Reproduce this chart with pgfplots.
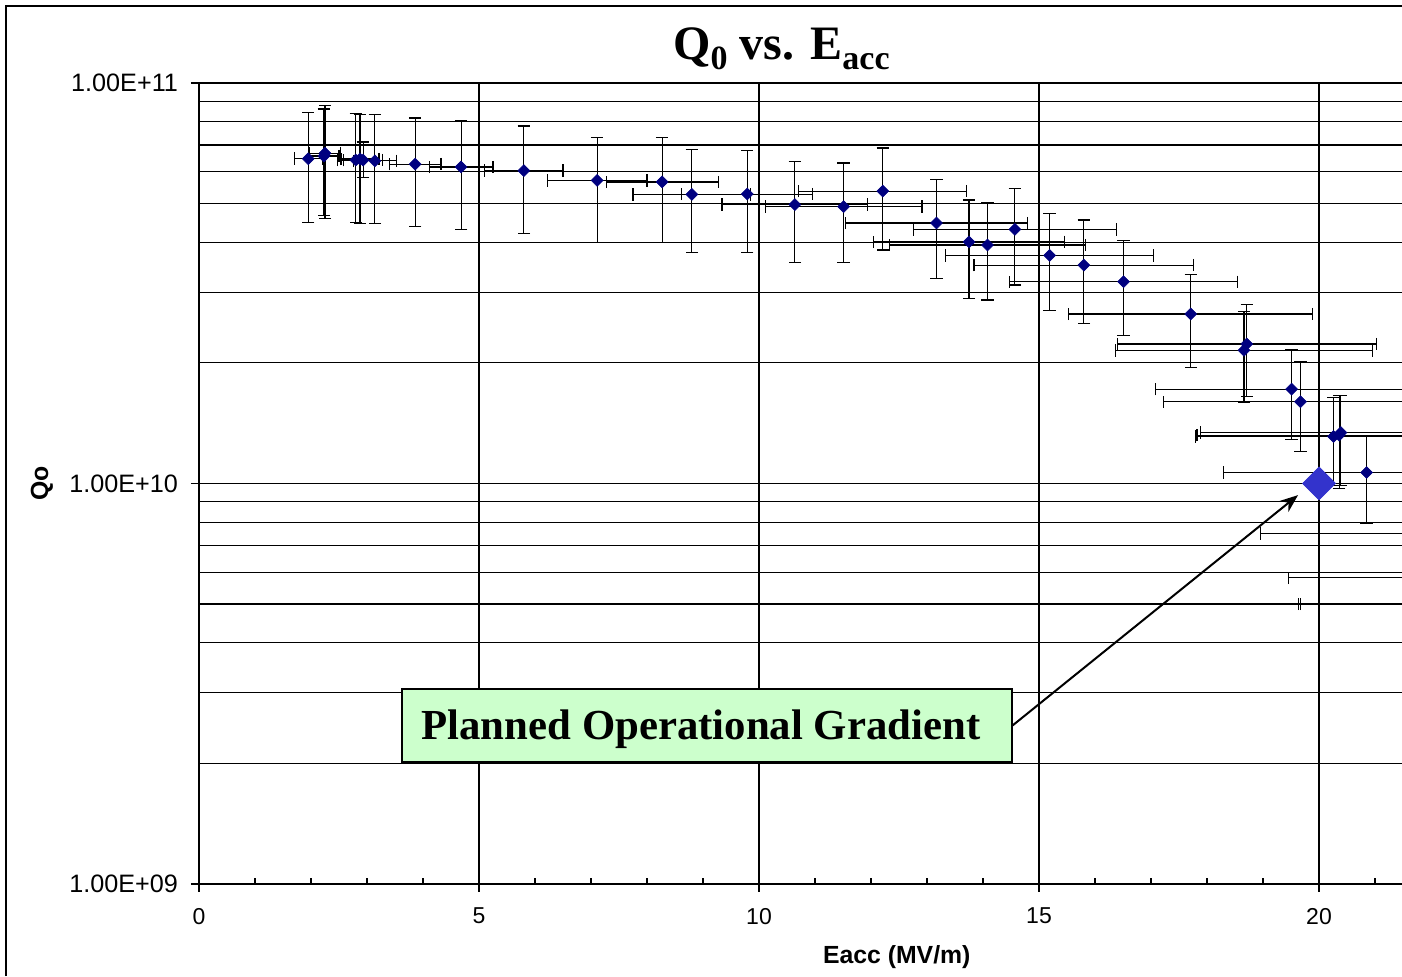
\documentclass[border=0pt]{standalone}
\usepackage{pgfplots}
\pgfplotsset{compat=1.18}
\usepackage{pgfplotstable}
\usepackage{fontspec}
\setmainfont{Liberation Sans}
\newfontfamily\serifb{Liberation Serif}
\usetikzlibrary{arrows.meta}
\definecolor{navy}{RGB}{0,0,128}
\definecolor{bigblue}{RGB}{51,51,204}
\definecolor{boxgreen}{RGB}{204,255,204}

\pgfplotstableread{
x y xe yp ym
1.95 6.47e10 0.25 1.96e10 1.99e10
2.25 6.68e10 0.27 2.10e10 2.10e10
2.23 6.57e10 0.27 2.04e10 1.91e10
2.80 6.42e10 0.33 1.96e10 1.94e10
2.875 6.46e10 0.34 1.87e10 2.01e10
2.93 6.42e10 0.35 0.70e10 0.62e10
3.14 6.39e10 0.38 1.94e10 1.94e10
3.86 6.27e10 0.46 1.91e10 1.89e10
4.68 6.17e10 0.57 1.88e10 1.87e10
5.80 6.04e10 0.70 1.77e10 1.84e10
7.11 5.71e10 0.89 1.61e10 1.71e10
8.27 5.66e10 1.00 1.66e10 1.66e10
8.80 5.27e10 1.05 1.56e10 1.50e10
9.79 5.28e10 1.17 1.50e10 1.51e10
10.64 4.97e10 1.30 1.39e10 1.40e10
11.51 4.91e10 1.40 1.40e10 1.34e10
12.21 5.37e10 1.50 1.51e10 1.54e10
13.17 4.47e10 1.63 1.28e10 1.22e10
13.75 4.01e10 1.70 1.09e10 1.12e10
14.08 3.94e10 1.75 1.10e10 1.07e10
14.57 4.31e10 1.81 1.14e10 1.18e10
15.19 3.71e10 1.86 1.02e10 1.01e10
15.80 3.51e10 1.96 1.04e10 1.00e10
16.51 3.19e10 2.03 0.85e10 0.85e10
17.71 2.65e10 2.18 0.68e10 0.70e10
18.71 2.23e10 2.31 0.57e10 0.58e10
18.66 2.15e10 2.30 0.54e10 0.56e10
19.51 1.72e10 2.43 0.44e10 0.43e10
19.67 1.60e10 2.44 0.41e10 0.40e10
20.26 1.31e10 2.47 0.33e10 0.32e10
20.36 1.32e10 2.54 0.34e10 0.35e10
20.39 1.34e10 2.50 0.32e10 0.35e10
20.85 1.065e10 2.56 0.255e10 0.269e10
21.60 7.50e9 2.65 1.9e9 1.9e9
22.10 5.81e9 2.64 1.4e9 1.4e9
22.30 5.00e9 2.66 1.2e9 1.2e9
22.33 5.00e9 2.66 1.2e9 1.2e9
}\qdata

\begin{document}
\begin{tikzpicture}
\useasboundingbox (-99.5pt,-46pt) rectangle (601.5pt,442pt);
\fill[white] (-99.5pt,-46pt) rectangle (601.5pt,442pt);
\draw[line width=1pt] (-96.5pt,-46pt) -- (-96.5pt,439pt) -- (601.5pt,439pt);
\node[anchor=base, font=\serifb\bfseries\fontsize{24}{28}\selectfont] at (291.25pt,412pt)
  {Q\raisebox{-5pt}{\fontsize{17}{20}\selectfont 0} vs. E\raisebox{-5pt}{\fontsize{17}{20}\selectfont acc}};
\begin{axis}[
  at={(0pt,0pt)}, anchor=south west,
  scale only axis, width=601.5pt, height=400.5pt,
  xmin=0, xmax=21.482, ymin=1e9, ymax=1e11, ymode=log,
  axis x line=bottom, axis y line=left,
  xtick pos=bottom, ytick pos=left,
  axis line style={-, line width=0.7pt, black},
  xtick={0,5,10,15,20}, xticklabels={0,5,10,15,20},
  minor xtick={1,2,3,4,6,7,8,9,11,12,13,14,16,17,18,19,21},
  ytick={1e9,1e10,1e11}, yticklabels={1.00E+09,1.00E+10,1.00E+11},
  minor ytick={2e9,3e9,4e9,5e9,6e9,7e9,8e9,9e9,2e10,3e10,4e10,5e10,6e10,7e10,8e10,9e10},
  xmajorgrids=true, ymajorgrids=true, yminorgrids=true,
  major grid style={black, line width=0.55pt},
  minor grid style={black, line width=0.55pt},
  tick align=inside, major tick length=4pt, minor tick length=3pt,
  tick style={black, line width=0.55pt},
  extra x ticks={0,5,10,15,20}, extra x tick labels={},
  extra x tick style={tick align=outside, grid=none},
  extra y ticks={1e9,1e10,1e11}, extra y tick labels={},
  extra y tick style={tick align=outside, grid=none},
  xticklabel style={font=\fontsize{11.5}{13}\selectfont, yshift=-8.5pt},
  yticklabel style={font=\fontsize{12.6}{14}\selectfont, xshift=-7pt},
  xlabel={\bfseries Eacc (MV/m)},
  ylabel={\bfseries Qo},
  label style={font=\fontsize{12.4}{14}\selectfont},
  xlabel style={at={(axis description cs:0.580,-0.0911)}, anchor=center},
  ylabel style={at={(axis description cs:-0.1305,0.5)}, anchor=center},
]
\addplot[only marks, mark=square*, mark size=2.1pt,
  mark options={rotate=45, fill=navy, draw=navy, line width=0.3pt},
  error bars/.cd, x dir=both, x explicit, y dir=both, y explicit,
  error bar style={black, line width=0.55pt},
  error mark=-,
  error mark options={rotate=90, black, mark size=3.1pt, line width=0.6pt}]
  table[x=x, y=y, x error=xe, y error plus=yp, y error minus=ym] {\qdata};
\addplot[only marks, mark=square*, mark size=5.8pt,
  mark options={rotate=45, fill=bigblue, draw=bigblue}] coordinates {(20,1e10)};
\node[draw=black, line width=0.7pt, fill=boxgreen, minimum width=305pt, minimum height=36.5pt,
  inner sep=0pt, text height=19pt, text depth=4.6pt, font=\serifb\bfseries\fontsize{21.4}{24}\selectfont]
  (pog) at (axis cs:9.07,2.488e9) {\hspace*{-6pt}Planned Operational Gradient};
\draw[line width=1pt, -{Stealth[length=9pt,width=7pt]}] (pog.east) -- (axis cs:19.625,9.35e9);
\end{axis}
\end{tikzpicture}
\end{document}
